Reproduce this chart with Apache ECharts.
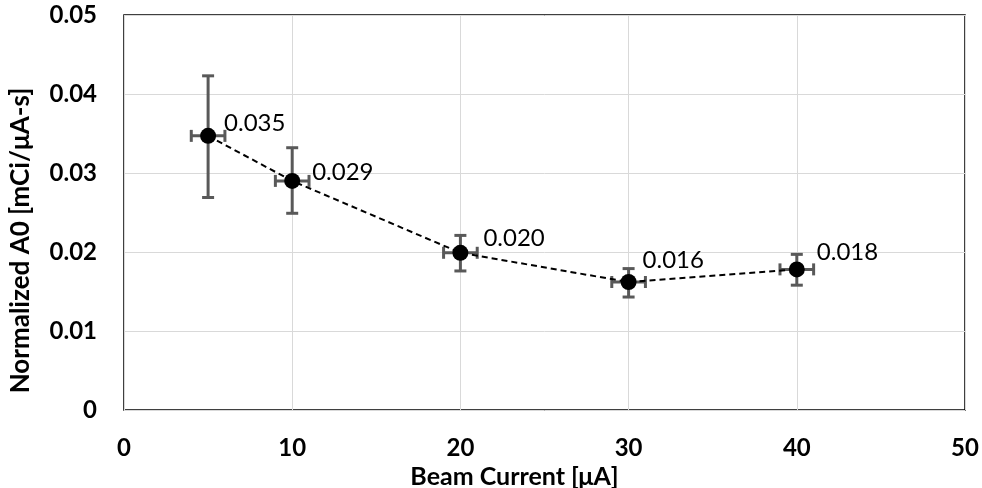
<!DOCTYPE html>
<html><head><meta charset="utf-8">
<script src="https://cdn.jsdelivr.net/npm/echarts@6/dist/echarts.min.js"></script>
<style>html,body{margin:0;padding:0;background:#fff}#c{width:982px;height:488px}</style>
</head><body><div id="c"></div>
<script>
const beamCurrent = [5, 10, 20, 30, 40];
const normA0 = [0.0347, 0.0290, 0.0199, 0.0162, 0.0178];
const labels = ['0.035', '0.029', '0.020', '0.016', '0.018'];
const yLow = [0.0269, 0.0249, 0.0176, 0.0143, 0.0158];
const yHigh = [0.0423, 0.0332, 0.0221, 0.0179, 0.0197];
const xErr = [1, 1, 1, 1, 1];
const xTicks = [0, 10, 20, 30, 40, 50];
const yTicks = [0, 0.01, 0.02, 0.03, 0.04, 0.05];

const labelOffsets = [[3, -13], [7, -9], [10, -15], [1, -22], [7, -17]];
const FONT = 'Lato, "Liberation Sans", sans-serif';
const chart = echarts.init(document.getElementById('c'));

const errData = beamCurrent.map((x, i) => [x, normA0[i], yLow[i], yHigh[i], x - xErr[i], x + xErr[i]]);
const ptData = beamCurrent.map((x, i) => ({
  value: [x, normA0[i]],
  label: { show: true, position: 'right', offset: labelOffsets[i], formatter: labels[i] }
}));

chart.setOption({
  animation: false,
  grid: { left: 124, right: 17, top: 15, bottom: 78, show: true, borderColor: '#000', borderWidth: 1.5,
    backgroundColor: 'transparent', containLabel: false, outerBoundsMode: 'none' },
  xAxis: {
    type: 'value', min: xTicks[0], max: xTicks[xTicks.length - 1], interval: 10,
    name: 'Beam Current [μA]', nameLocation: 'middle', nameGap: 51,
    nameTextStyle: { fontFamily: FONT, fontWeight: 'bold', fontSize: 25, color: '#000', padding: [0, 60, 0, 0] },
    axisLine: { show: false }, axisTick: { show: false },
    axisLabel: { fontFamily: FONT, fontWeight: 'bold', fontSize: 24, color: '#000', margin: 26 },
    splitLine: { show: true, lineStyle: { color: '#d9d9d9', width: 1 } }
  },
  yAxis: {
    type: 'value', min: yTicks[0], max: yTicks[yTicks.length - 1], interval: 0.01,
    name: 'Normalized A0 [mCi/μA-s]', nameLocation: 'middle', nameGap: 90, nameRotate: 90,
    nameTextStyle: { fontFamily: FONT, fontWeight: 'bold', fontSize: 26, color: '#000', padding: [0, 56, 0, 0] },
    axisLine: { show: false }, axisTick: { show: false },
    axisLabel: { fontFamily: FONT, fontWeight: 'bold', fontSize: 24, color: '#000', margin: 27,
      formatter: v => v === 0 ? '0' : v.toFixed(2) },
    splitLine: { show: true, lineStyle: { color: '#d9d9d9', width: 1 } }
  },
  series: [
    {
      type: 'line', data: ptData, symbol: 'circle', symbolSize: 16, z: 5,
      itemStyle: { color: '#000' },
      lineStyle: { color: '#000', width: 2, type: [6, 4] },
      label: { fontFamily: FONT, fontSize: 24, color: '#000' }
    },
    {
      type: 'custom', data: errData, z: 4,
      renderItem: function (params, api) {
        const c = api.coord([api.value(0), api.value(1)]);
        const lo = api.coord([api.value(0), api.value(2)]);
        const hi = api.coord([api.value(0), api.value(3)]);
        const xl = api.coord([api.value(4), api.value(1)]);
        const xh = api.coord([api.value(5), api.value(1)]);
        const st = { stroke: '#595959', lineWidth: 3 };
        const cap = 6;
        const line = (x1, y1, x2, y2) => ({ type: 'line', shape: { x1, y1, x2, y2 }, style: st });
        return { type: 'group', children: [
          line(c[0], lo[1], c[0], hi[1]),
          line(c[0] - cap, lo[1], c[0] + cap, lo[1]),
          line(c[0] - cap, hi[1], c[0] + cap, hi[1]),
          line(xl[0], c[1], xh[0], c[1]),
          line(xl[0], c[1] - cap, xl[0], c[1] + cap),
          line(xh[0], c[1] - cap, xh[0], c[1] + cap)
        ]};
      }
    }
  ]
});
</script></body></html>
